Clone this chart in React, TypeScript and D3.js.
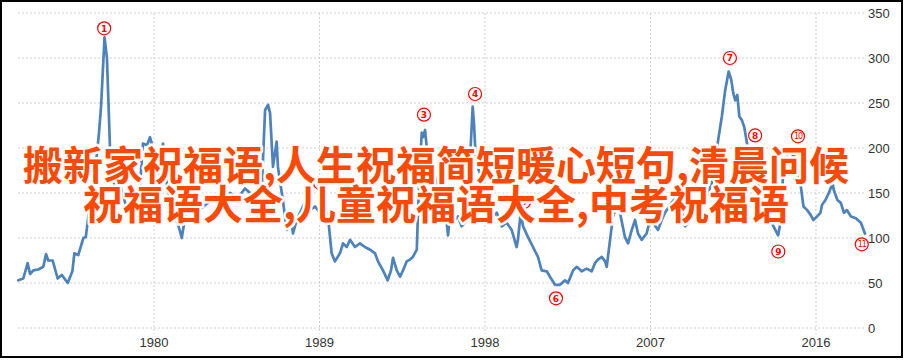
import React from "react";
import * as d3 from "d3";

const years = [
  1972.62, 1972.89, 1973.13, 1973.26, 1973.44, 1973.71, 1973.98, 1974.13, 1974.25, 1974.49,
  1974.76, 1974.98, 1975.31, 1975.56, 1975.67, 1975.88, 1976.16, 1976.29, 1976.52, 1976.79,
  1977.01, 1977.12, 1977.31, 1977.44, 1977.61, 1977.77, 1977.99, 1978.15, 1978.42, 1978.69,
  1978.97, 1979.13, 1979.40, 1979.62, 1979.78, 1979.95, 1980.11, 1980.33, 1980.49, 1980.69,
  1981.03, 1981.31, 1981.51, 1981.78, 1982.12, 1982.50, 1982.88, 1983.32, 1983.70, 1984.13,
  1984.57, 1984.95, 1985.33, 1985.66, 1985.86, 1986.04, 1986.20, 1986.31, 1986.47, 1986.67,
  1986.74, 1987.02, 1987.22, 1987.40, 1987.56, 1987.76, 1988.10, 1988.21, 1988.48, 1988.76,
  1989.03, 1989.30, 1989.46, 1989.66, 1989.84, 1990.11, 1990.28, 1990.48, 1990.66, 1990.93,
  1991.20, 1991.47, 1991.75, 1992.02, 1992.18, 1992.45, 1992.71, 1992.89, 1993.00, 1993.20,
  1993.38, 1993.54, 1993.74, 1993.92, 1994.08, 1994.29, 1994.36, 1994.47, 1994.56, 1994.63,
  1994.74, 1994.83, 1995.01, 1995.17, 1995.37, 1995.55, 1995.82, 1995.93, 1995.99, 1996.10,
  1996.37, 1996.53, 1996.73, 1996.91, 1997.08, 1997.22, 1997.33, 1997.40, 1997.51, 1997.73,
  1997.89, 1998.16, 1998.44, 1998.64, 1998.91, 1999.18, 1999.45, 1999.72, 1999.79, 1999.94,
  2000.07, 2000.34, 2000.61, 2000.88, 2001.08, 2001.36, 2001.53, 2001.81, 2002.08, 2002.35,
  2002.51, 2002.79, 2002.99, 2003.26, 2003.53, 2003.80, 2003.98, 2004.14, 2004.35, 2004.53,
  2004.62, 2004.80, 2004.96, 2005.16, 2005.34, 2005.61, 2005.78, 2005.98, 2006.16, 2006.32,
  2006.52, 2006.79, 2006.97, 2007.06, 2007.24, 2007.41, 2007.61, 2007.79, 2007.95, 2008.15,
  2008.42, 2008.70, 2008.88, 2009.04, 2009.24, 2009.42, 2009.58, 2009.79, 2010.06, 2010.33,
  2010.51, 2010.68, 2010.88, 2011.06, 2011.25, 2011.39, 2011.50, 2011.61, 2011.72, 2011.83,
  2011.97, 2012.10, 2012.25, 2012.32, 2012.54, 2012.76, 2012.98, 2013.14, 2013.34, 2013.69,
  2013.94, 2014.07, 2014.16, 2014.23, 2014.43, 2014.61, 2014.77, 2014.97, 2015.15, 2015.32,
  2015.52, 2015.70, 2015.86, 2016.06, 2016.24, 2016.33, 2016.51, 2016.70, 2016.90, 2016.97,
  2017.17, 2017.35, 2017.52, 2017.68, 2017.90, 2018.17, 2018.44, 2018.66,
];

const values = [
  53, 55, 72, 60, 64, 65, 68, 82, 75, 75,
  55, 59, 50, 63, 83, 81, 100, 101, 139, 172,
  217, 246, 323, 300, 198, 165, 150, 160, 140, 125,
  120, 128, 205, 203, 212, 200, 180, 170, 205, 161,
  128, 115, 100, 135, 140, 132, 138, 145, 135, 150,
  145, 155, 148, 152, 155, 242, 248, 239, 179, 207,
  179, 140, 109, 128, 105, 120, 135, 139, 131, 135,
  128, 133, 124, 83, 74, 83, 94, 90, 98, 90,
  94, 90, 87, 83, 74, 64, 53, 64, 78, 64,
  57, 64, 74, 76, 79, 87, 131, 183, 217, 212,
  220, 201, 183, 176, 161, 146, 130, 115, 103, 128,
  120, 124, 113, 117, 135, 201, 246, 228, 183, 172,
  164, 146, 124, 128, 113, 117, 109, 90, 98, 128,
  113, 101, 90, 79, 64, 63, 57, 48, 48, 53,
  50, 64, 68, 63, 66, 63, 72, 76, 79, 74,
  68, 98, 124, 135, 128, 101, 94, 109, 120, 105,
  98, 105, 120, 142, 114, 109, 120, 128, 133, 139,
  146, 131, 113, 117, 135, 128, 139, 131, 146, 161,
  183, 209, 235, 264, 285, 276, 261, 253, 259, 235,
  231, 223, 205, 195, 175, 165, 150, 140, 128, 113,
  103, 117, 150, 179, 190, 179, 194, 179, 161, 135,
  131, 126, 120, 124, 128, 137, 142, 150, 161, 153,
  142, 139, 128, 131, 124, 122, 117, 105,
];

const yTicks = [0, 50, 100, 150, 200, 250, 300, 350];
const xTickYears = [1980, 1989, 1998, 2007, 2016];

const noteLabels = ["1", "2", "3", "4", "5", "6", "7", "8", "9", "10", "11"];
const noteYears = [1977.29, 1989.03, 1994.68, 1997.46, 2000.12, 2001.86, 2011.32, 2012.69, 2013.95, 2015.02, 2018.49];
const noteValues = [333, 161, 237, 260, 140, 33, 300, 214, 85, 213, 93];

const titleLine1 = "搬新家祝福语,人生祝福简短暖心短句,清晨问候";
const titleLine2 = "祝福语大全,儿童祝福语大全,中考祝福语";

const W = 905;
const H = 360;

export default function App() {
  const x = d3.scaleLinear().domain([1972.604, 2018.556]).range([18, 863]);
  const y = d3.scaleLinear().domain([0, 350]).range([328, 13]);
  const pts: [number, number][] = years.map((yr, i) => [yr, values[i]]);
  const line = d3
    .line<[number, number]>()
    .x((d) => x(d[0]))
    .y((d) => y(d[1]));

  return (
    <svg
      width={W}
      height={H}
      style={{ position: "fixed", left: 0, top: 0, background: "#fff" }}
    >
      <rect x={0} y={0} width={W} height={H} fill="#fff" />
      {yTicks.map((t) => (
        <line
          key={"h" + t}
          x1={18}
          x2={865}
          y1={y(t)}
          y2={y(t)}
          stroke="#cfcfcf"
          strokeWidth={1}
          strokeDasharray="2,2"
        />
      ))}
      {xTickYears.map((t) => (
        <line
          key={"v" + t}
          x1={x(t)}
          x2={x(t)}
          y1={13}
          y2={334}
          stroke="#cfcfcf"
          strokeWidth={1}
          strokeDasharray="2,2"
        />
      ))}
      {yTicks.map((t) => (
        <text
          key={"yl" + t}
          x={868}
          y={y(t)}
          dy="0.36em"
          fontFamily="'Liberation Sans', Arial, sans-serif"
          fontSize={13}
          fill="#333"
        >
          {t}
        </text>
      ))}
      {xTickYears.map((t) => (
        <text
          key={"xl" + t}
          x={x(t)}
          y={347}
          textAnchor="middle"
          fontFamily="'Liberation Sans', Arial, sans-serif"
          fontSize={13}
          fill="#333"
        >
          {t}
        </text>
      ))}
      <path
        d={line(pts) || ""}
        fill="none"
        stroke="#4d82ba"
        strokeWidth={2.7}
        strokeLinejoin="round"
        strokeLinecap="round"
      />
      {noteLabels.map((lab, i) => (
        <g key={"n" + lab} transform={`translate(${x(noteYears[i])},${y(noteValues[i])})`}>
          <circle r={6.5} fill="#fff" stroke="#ff0000" strokeWidth={1.2} />
          <text
            textAnchor="middle"
            dy="0.36em"
            fontFamily="'DejaVu Sans', sans-serif"
            fontWeight={lab.length > 1 ? 400 : 700}
            fontSize={lab.length > 1 ? 8 : 9}
            letterSpacing={lab.length > 1 ? -1 : 0}
            fill="#ff0000"
          >
            {lab}
          </text>
        </g>
      ))}
      <g
        fontFamily="'Noto Sans CJK SC', sans-serif"
        fontWeight={700}
        fontSize={40}
        textAnchor="middle"
        fill="#ff4800"
        stroke="#fff"
        strokeWidth={5}
        strokeLinejoin="round"
        style={{ paintOrder: "stroke" }}
      >
        <text x={436} y={180}>
          {titleLine1}
        </text>
        <text x={436} y={219}>
          {titleLine2}
        </text>
      </g>
      <rect x={1} y={1} width={901} height={356} fill="none" stroke="#000" strokeWidth={2} />
    </svg>
  );
}
